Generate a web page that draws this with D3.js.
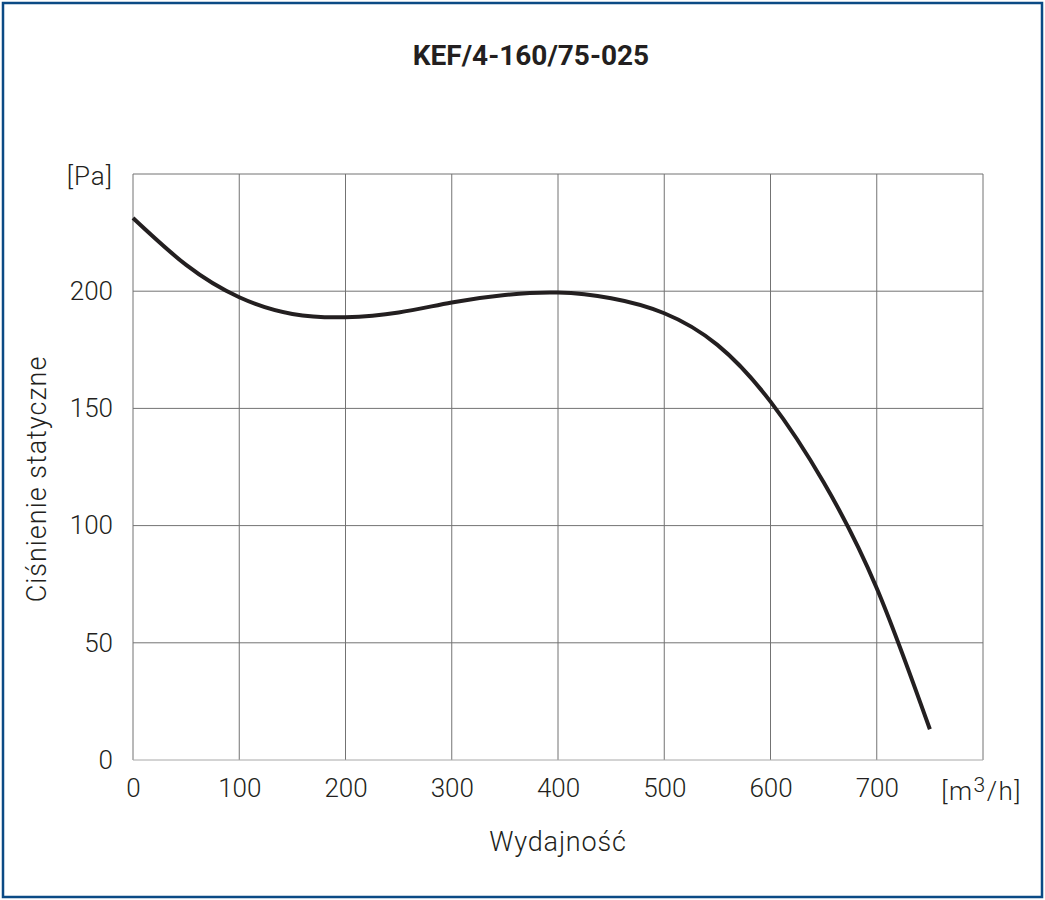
<!DOCTYPE html>
<html><head><meta charset="utf-8">
<script src="https://cdn.jsdelivr.net/npm/d3@7"></script>
<style>
html,body{margin:0;padding:0;background:#fff;}
svg{display:block;font-family:Roboto,"Noto Sans",sans-serif;}
</style></head>
<body>
<svg id="chart" width="1045" height="900"></svg>
<script>
const title = "KEF/4-160/75-025";
const xLabel = "Wydajność";
const yLabel = "Ciśnienie statyczne";
const xTicks = [0,100,200,300,400,500,600,700];
const yTicks = [0,50,100,150,200];
const flow = [0,50,100,150,200,250,300,350,400,450,500,550,600,650,700,750];
const pressure = [231.2,211.2,197.4,190.3,188.9,190.9,195.2,198.4,199.4,197.0,190.6,177.1,152.9,118.5,73.3,13.1];

const svg = d3.select("#chart");
const W = 1045, H = 900;
const m = {left:133, right:62, top:174, bottom:140};
const x = d3.scaleLinear().domain([0,800]).range([m.left, W-m.right]);
const y = d3.scaleLinear().domain([0,250]).range([H-m.bottom, m.top]);
const ink = "#231f20";

svg.append("rect").attr("x",3).attr("y",3).attr("width",W-6).attr("height",H-6)
  .attr("fill","#fff").attr("stroke","#0b4a85").attr("stroke-width",2.5);

// grid
const g = svg.append("g");
g.selectAll("line.v").data(d3.range(0,801,100)).join("line")
  .attr("x1",d=>x(d)).attr("x2",d=>x(d)).attr("y1",y(0)).attr("y2",y(250))
  .attr("stroke","#737373").attr("stroke-width",1);
g.selectAll("line.h").data(d3.range(0,251,50)).join("line")
  .attr("x1",x(0)).attr("x2",x(800)).attr("y1",d=>y(d)).attr("y2",d=>y(d))
  .attr("stroke",d=>d===0?"#a8a8a8":"#737373").attr("stroke-width",1);

// axes labels
const yAxis = d3.axisLeft(y).tickValues(yTicks).tickSize(0).tickPadding(20);
const ya = svg.append("g").attr("transform",`translate(${m.left},0)`).call(yAxis);
ya.select(".domain").remove();
ya.selectAll("text").attr("font-size",26).attr("font-weight",300).attr("fill",ink)
  .attr("font-family","Roboto");

const xAxis = d3.axisBottom(x).tickValues(xTicks).tickSize(0).tickPadding(19);
const xa = svg.append("g").attr("transform",`translate(0,${y(0)})`).call(xAxis);
xa.select(".domain").remove();
xa.selectAll("text").attr("font-size",26).attr("font-weight",300).attr("fill",ink)
  .attr("font-family","Roboto");

// units
svg.append("text").attr("x",113).attr("y",y(250)+11).attr("text-anchor","end")
  .attr("font-size",26).attr("font-weight",300).attr("fill",ink).attr("letter-spacing",1).text("[Pa]");
const u = svg.append("text").attr("x",1022).attr("y",y(0)+40).attr("text-anchor","end")
  .attr("font-size",26).attr("font-weight",300).attr("fill",ink).attr("letter-spacing",1.5);
u.append("tspan").text("[m");
u.append("tspan").attr("dy",-8).attr("font-size",21).text("3");
u.append("tspan").attr("dy",8).text("/h]");

// title
svg.append("text").attr("x",531).attr("y",65).attr("text-anchor","middle")
  .attr("font-size",28).attr("font-weight",700).attr("fill",ink).text(title);

// axis titles
svg.append("text").attr("x",558).attr("y",851).attr("text-anchor","middle")
  .attr("font-size",27).attr("font-weight",300).attr("letter-spacing",0.8).attr("fill",ink).text(xLabel);
svg.append("text").attr("transform","translate(46,479) rotate(-90)").attr("text-anchor","middle")
  .attr("font-size",27).attr("font-weight",300).attr("letter-spacing",1).attr("fill",ink).text(yLabel);

// curve
const pts = flow.map((f,i)=>[f,pressure[i]]);
svg.append("path").datum(pts)
  .attr("d", d3.line().x(d=>x(d[0])).y(d=>y(d[1])).curve(d3.curveNatural))
  .attr("fill","none").attr("stroke",ink).attr("stroke-width",4);
</script>
</body></html>
